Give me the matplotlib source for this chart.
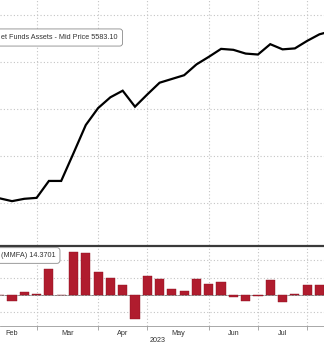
"""Money market fund assets: weekly level (top) and weekly change (bottom)."""

import numpy as np
import pandas as pd
import matplotlib
matplotlib.use("Agg")
import matplotlib.pyplot as plt
import matplotlib.dates as mdates

# weekly observations (Wednesdays), starting 8 Feb 2023
weeks = pd.date_range("2023-02-08", periods=28, freq="W-WED")

assets = [5210, 5204, 5209, 5211, 5247, 5247, 5306, 5366, 5402, 5425,
          5439, 5405, 5431, 5456, 5464, 5472, 5495, 5511, 5528, 5526,
          5518, 5516, 5538, 5527, 5529, 5545, 5559, 5566]

weekly_change = [0.0, -8.1, 4.3, 1.9, 36.7, 0.0, 61.0, 59.6, 32.4, 24.5,
                 14.7, -34.7, 26.7, 23.3, 8.1, 6.2, 23.3, 15.2, 18.1, -2.4,
                 -9.0, -1.0, 21.9, -10.5, 1.5, 13.8, 13.8, 7.0]

top_label = "et Funds Assets - Mid Price 5583.10"
bottom_label = "(MMFA) 14.3701"
year_label = "2023"

BAR = "#b01c2e"
GRID = "#c4c4c4"
TXT = "#333333"
FONT = "Liberation Sans"

W, H = 324, 345
fig = plt.figure(figsize=(W / 100, H / 100), dpi=100)


def fy(px):
    return 1 - px / H


ax = fig.add_axes([0, fy(245), 1, 245 / H])
axb = fig.add_axes([0, fy(326), 1, 79 / H], sharex=ax)

x = mdates.date2num(weeks)
ax.plot(x, assets, color="black", lw=1.6, solid_joinstyle="miter")
axb.bar(x, weekly_change, width=5.2, color=BAR, edgecolor="#8c1020", lw=0.3)
axb.axhline(0, color="#707070", lw=0.6, zorder=0.5)

# month gridlines on the first Wednesday of each month
all_wed = pd.date_range("2023-02-01", "2023-09-06", freq="W-WED")
month_starts = [d for d in all_wed if d.day <= 7]
ms = mdates.date2num(month_starts)
centers = (ms[:-1] + ms[1:]) / 2
names = [d.strftime("%b") for d in month_starts[:-1]]

ax.set_yticks([5200, 5300, 5400, 5500, 5600])
axb.set_yticks([-25, 0, 25, 50])

for a in (ax, axb):
    a.set_xticks(ms)
    a.grid(True, color=GRID, lw=0.8, linestyle=(0, (1, 2)))
    a.set_axisbelow(True)
    for s in a.spines.values():
        s.set_visible(False)
    a.tick_params(axis="y", left=False, labelleft=False)

axb.spines["bottom"].set_visible(True)
axb.spines["bottom"].set_color("#9a9a9a")
axb.spines["bottom"].set_linewidth(0.6)
axb.tick_params(axis="x", which="major", length=3, width=0.6,
                color="#9a9a9a", labelbottom=False)
axb.set_xticks(centers, minor=True)
axb.set_xticklabels(names, minor=True)
axb.tick_params(axis="x", which="minor", length=0, pad=3,
                labelsize=5.2, labelcolor=TXT)
for t in axb.get_xticklabels(minor=True):
    t.set_fontfamily(FONT)
# the top panel shares the x axis, hide its copy of the labels
ax.tick_params(axis="x", which="both", bottom=False, labelbottom=False)

# limits last: set_xticks widens the view
x0 = x[0] + 0.024 * 7
x1 = x[0] + 26.37 * 7
ax.set_xlim(x0, x1)
ax.set_ylim(5110.7, 5632)
axb.set_ylim(-44.3, 68.6)

fig.text(158 / W, fy(341), year_label, ha="center", va="center",
         fontsize=5.2, color=TXT, family=FONT)

# panel separator
fig.add_artist(plt.Line2D([0, 1], [fy(246), fy(246)], transform=fig.transFigure,
                          color="#3a3a3a", lw=1.6))

# value boxes
fig.text(1 / W, fy(37.5), top_label, ha="left", va="center", fontsize=5.2,
         color=TXT, family=FONT,
         bbox=dict(boxstyle="round,pad=0.7,rounding_size=0.4", fc="white",
                   ec="#8a8a8a", lw=0.6))
fig.text(1 / W, fy(255.5), bottom_label, ha="left", va="center", fontsize=5.2,
         color=TXT, family=FONT,
         bbox=dict(boxstyle="round,pad=0.6,rounding_size=0.4", fc="white",
                   ec="#8a8a8a", lw=0.6))

fig.savefig("out.png", dpi=100)
